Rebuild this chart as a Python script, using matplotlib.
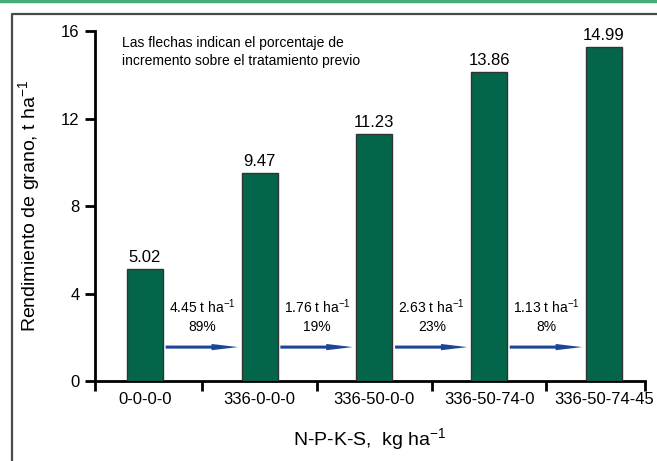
import matplotlib
matplotlib.use("Agg")
import matplotlib.pyplot as plt
from matplotlib.lines import Line2D

plt.rcParams['font.family'] = ['Liberation Sans', 'DejaVu Sans']
plt.rcParams['mathtext.fontset'] = 'custom'
plt.rcParams['mathtext.rm'] = 'Liberation Sans'
plt.rcParams['mathtext.it'] = 'Liberation Sans'

# Data
tratamientos = ["0-0-0-0", "336-0-0-0", "336-50-0-0", "336-50-74-0", "336-50-74-45"]
altura_barras = [5.1, 9.5, 11.28, 14.14, 15.28]   # heights as drawn
etiquetas = ["5.02", "9.47", "11.23", "13.86", "14.99"]
incremento_t = ["4.45", "1.76", "2.63", "1.13"]
incremento_pct = ["89%", "19%", "23%", "8%"]
y_ticks = [0, 4, 8, 12, 16]

bar_color = "#03664a"
arrow_color = "#1b4596"

fig = plt.figure(figsize=(6.57, 4.61), dpi=100)

# Frame and top green line
fig.add_artist(Line2D([0, 1], [0.998, 0.998], color="#46ad76", lw=2.5))
fig.add_artist(Line2D([12/657, 12/657, 1.0], [0.0, 1 - 14/461, 1 - 14/461],
                      color="#4a4a4a", lw=1.6))

ax = fig.add_axes([95/657, 1 - 381/461, 550/657, 350/461])

x = list(range(len(tratamientos)))
ax.bar(x, altura_barras, width=0.315, color=bar_color, edgecolor="#333333", linewidth=1.0, zorder=3)

# Value labels above bars
for xi, h, lab in zip(x, altura_barras, etiquetas):
    ax.annotate(lab, (xi, h), xytext=(0, 3), textcoords="offset points",
                ha="center", va="bottom", fontsize=12)

# Arrows and increment labels between bars
for i in range(len(incremento_t)):
    ax.annotate("", xy=(i + 0.81, 1.55), xytext=(i + 0.18, 1.55),
                arrowprops=dict(arrowstyle="simple,head_length=1.9,head_width=0.45,tail_width=0.22",
                                fc=arrow_color, ec="none", lw=0, mutation_scale=10,
                                shrinkA=0, shrinkB=0))
    ax.text(i + 0.5, 3.4, incremento_t[i] + r" t ha$^{-1}$", ha="center", va="center", fontsize=10)
    ax.text(i + 0.5, 2.45, incremento_pct[i], ha="center", va="center", fontsize=10)

ax.text(-0.2, 15.75, "Las flechas indican el porcentaje de\nincremento sobre el tratamiento previo",
        ha="left", va="top", fontsize=10, linespacing=1.3)

ax.set_xlim(-0.436, 4.359)
ax.set_ylim(0, 16)

# x ticks: labels at bar centres, tick marks at boundaries
ax.set_xticks(x)
ax.set_xticklabels(tratamientos, fontsize=12)
ax.tick_params(axis="x", which="major", length=0, pad=8)
ax.set_xticks([-0.436, 0.5, 1.5, 2.5, 3.5, 4.359], minor=True)
ax.tick_params(axis="x", which="minor", length=7, width=2, direction="out")

ax.set_yticks(y_ticks)
ax.set_yticklabels([str(v) for v in y_ticks], fontsize=12)
ax.tick_params(axis="y", length=7, width=2, direction="out", pad=4)

for s in ["top", "right"]:
    ax.spines[s].set_visible(False)
for s in ["left", "bottom"]:
    ax.spines[s].set_linewidth(2)
ax.spines["bottom"].set_bounds(-0.436, 4.359)

ax.set_xlabel(r"N-P-K-S,  kg ha$^{-1}$", fontsize=14, labelpad=14)
ax.set_ylabel(r"Rendimiento de grano, t ha$^{-1}$", fontsize=14, labelpad=14)

fig.savefig("out.png", dpi=100)
